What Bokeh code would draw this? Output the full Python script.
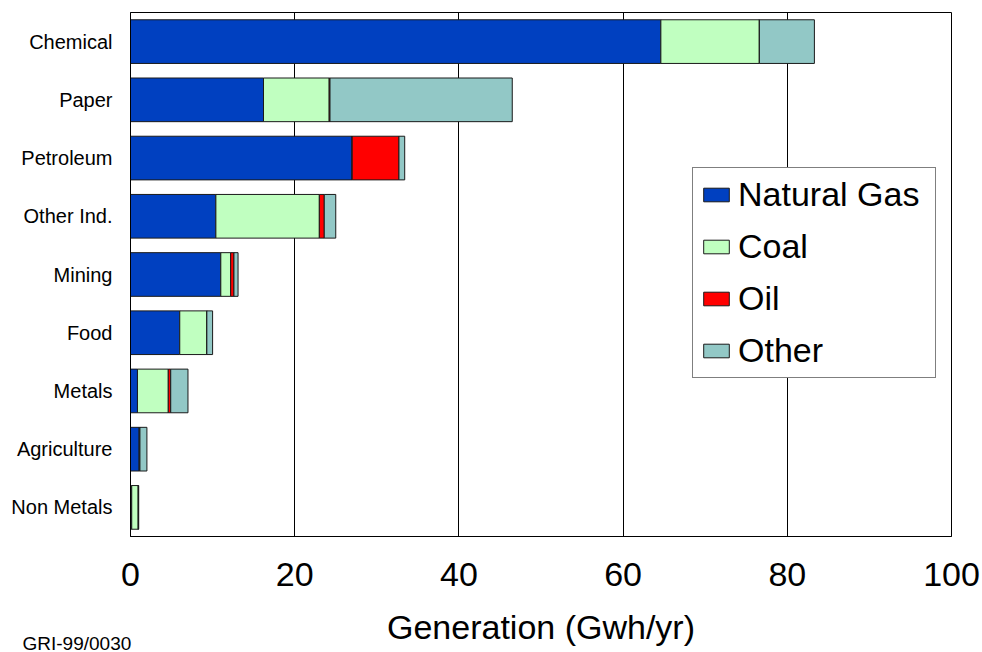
from bokeh.plotting import figure
from bokeh.models import ColumnDataSource, FactorRange, Legend, LegendItem, FixedTicker, Title
from bokeh.embed import file_html
from bokeh.resources import INLINE

industries = ["Chemical", "Paper", "Petroleum", "Other Ind.", "Mining", "Food",
              "Metals", "Agriculture", "Non Metals"]
natural_gas = [64.6, 16.2, 27.0, 10.4, 11.0, 6.0, 0.85, 1.05, 0.15]
coal        = [12.0, 8.0, 0.0, 12.6, 1.2, 3.3, 3.75, 0.1, 0.8]
oil         = [0.0, 0.1, 5.7, 0.6, 0.4, 0.0, 0.3, 0.0, 0.0]
other       = [6.7, 22.2, 0.7, 1.4, 0.5, 0.7, 2.1, 0.85, 0.05]
series_names = ["Natural Gas", "Coal", "Oil", "Other"]
series_keys = ["ng", "coal", "oil", "other"]
colors = ["#0040C0", "#C0FFC0", "#FF0000", "#92C8C6"]
x_ticks = [0, 20, 40, 60, 80, 100]

FONT = "Liberation Sans"

source = ColumnDataSource(dict(ind=industries, ng=natural_gas, coal=coal, oil=oil, other=other))

p = figure(width=982, height=652, output_backend="svg", toolbar_location=None,
           y_range=FactorRange(*list(reversed(industries))), x_range=(0, 100),
           min_border_left=130, min_border_right=31, min_border_top=12, min_border_bottom=116)

rs = p.hbar_stack(series_keys, y="ind", height=0.75, source=source, color=colors,
                  line_color="#1a1a1a", line_width=1)

legend = Legend(items=[LegendItem(label=n, renderers=[r]) for n, r in zip(series_names, rs)],
                location=(562, 158), border_line_color="black", border_line_width=1,
                label_text_font=FONT, label_text_font_size="34px", label_text_color="black",
                glyph_width=32, glyph_height=17, label_standoff=6, label_width=190,
                padding=7, spacing=13, margin=0, background_fill_alpha=1)
p.add_layout(legend, "center")

p.outline_line_color = "black"
p.outline_line_width = 1
p.ygrid.grid_line_color = None
p.xgrid.grid_line_color = "black"
p.xgrid.grid_line_width = 1
p.xgrid.ticker = FixedTicker(ticks=x_ticks)
p.xaxis.ticker = FixedTicker(ticks=x_ticks)

for ax in (p.xaxis[0], p.yaxis[0]):
    ax.axis_line_color = "black"
    ax.major_tick_out = 0
    ax.major_tick_in = 0
    ax.minor_tick_out = 0
    ax.minor_tick_in = 0
    ax.major_label_text_font = FONT
    ax.major_label_text_color = "black"

p.xaxis.major_label_text_font_size = "34px"
p.xaxis.major_label_standoff = 26
p.xaxis.axis_label = "Generation (Gwh/yr)"
p.xaxis.axis_label_text_font = FONT
p.xaxis.axis_label_text_font_size = "34px"
p.xaxis.axis_label_text_font_style = "normal"
p.xaxis.axis_label_text_color = "black"
p.xaxis.axis_label_standoff = 19

p.yaxis.major_label_text_font_size = "20px"
p.yaxis.major_label_standoff = 18

note = Title(text="GRI-99/0030", align="left", vertical_align="top", offset=-108, standoff=-32,
             text_font=FONT, text_font_size="19px", text_font_style="normal",
             text_color="black")
p.add_layout(note, "below")

open("out.html", "w").write(file_html(p, INLINE))
